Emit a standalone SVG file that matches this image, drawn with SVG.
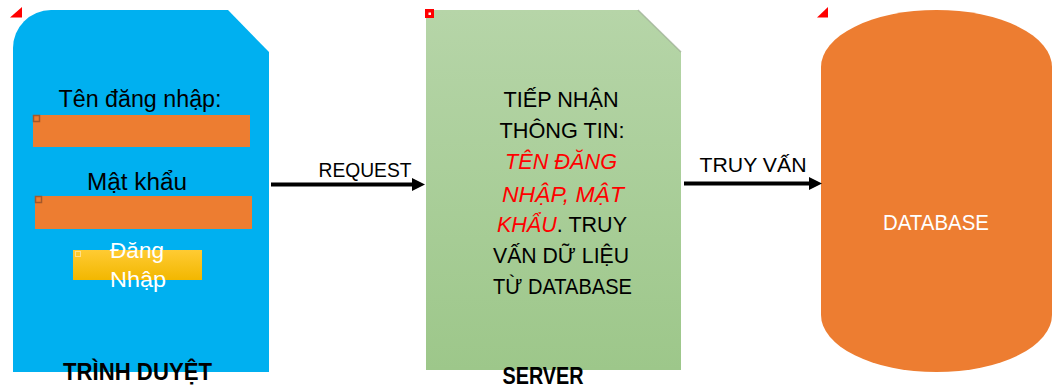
<svg xmlns="http://www.w3.org/2000/svg" width="1057" height="390" viewBox="0 0 1057 390">
  <style>
    text { font-family: "Liberation Sans", Arial, sans-serif; fill: #000; }
    .lbl { font-size: 23px; }
    .btn { font-size: 22px; fill: #fff; }
    .cap { font-size: 23px; font-weight: bold; }
    .srv { font-size: 22.5px; }
    .em { fill: #ff0000; font-style: italic; }
    .conn { font-size: 20.5px; }
    .field { fill: #ed7d31; }
    .handle { fill: none; stroke: #a4582a; stroke-width: 1.5; }
    .mark { fill: #ff0000; }
    .edge { stroke: #000; stroke-width: 4; fill: none; }
  </style>
  <defs>
    <linearGradient id="serverFill" x1="0" y1="0" x2="0" y2="1">
      <stop offset="0" stop-color="#b6d5a8"/>
      <stop offset="1" stop-color="#9dc78a"/>
    </linearGradient>
    <linearGradient id="buttonFill" x1="0" y1="0" x2="0" y2="1">
      <stop offset="0" stop-color="#ffcb33"/>
      <stop offset="1" stop-color="#f2b700"/>
    </linearGradient>
    <marker id="arrowHead" markerUnits="userSpaceOnUse" markerWidth="14" markerHeight="14" refX="5" refY="6.5" orient="auto">
      <path d="M0,0 L13,6.5 L0,13 Z" fill="#000"/>
    </marker>
  </defs>

  <!-- Browser (login form) -->
  <g id="browser">
    <path d="M13,48 A38,38 0 0 1 51,10 L228,10 L269,52 L269,372 L13,372 Z" fill="#00b0f0"/>
    <path class="mark" d="M10,17.5 L22,17.5 L22,7 Z"/>
    <text class="lbl" x="140" y="107" text-anchor="middle" textLength="163" lengthAdjust="spacingAndGlyphs">Tên đăng nhập:</text>
    <rect class="field" x="33" y="115" width="217" height="32"/>
    <rect class="handle" x="33.5" y="115.5" width="6" height="6"/>
    <text class="lbl" x="137" y="190" text-anchor="middle" textLength="100" lengthAdjust="spacingAndGlyphs">Mật khẩu</text>
    <rect class="field" x="35" y="196" width="217" height="33"/>
    <rect class="handle" x="35.5" y="196.5" width="6" height="6"/>
    <rect x="73" y="250" width="129" height="30" fill="url(#buttonFill)"/>
    <rect x="75.5" y="251.5" width="5" height="5" fill="none" stroke="#ffe08a" stroke-width="1"/>
    <text class="btn" x="137" y="258" text-anchor="middle" textLength="54" lengthAdjust="spacingAndGlyphs">Đăng</text>
    <text class="btn" x="138" y="287" text-anchor="middle" textLength="56" lengthAdjust="spacingAndGlyphs">Nhập</text>
    <text class="cap" x="137.5" y="380" text-anchor="middle" textLength="149" lengthAdjust="spacingAndGlyphs">TRÌNH DUYỆT</text>
  </g>

  <!-- Server -->
  <g id="server">
    <path d="M426,10 L638,10 L681,52 L681,370 L426,370 Z" fill="url(#serverFill)"/>
    <path d="M638,10 L681,52" stroke="#9aab92" stroke-width="1.5" fill="none" opacity="0.7"/>
    <rect class="mark" x="425" y="9" width="9" height="9"/>
    <rect x="428.5" y="12.5" width="2.5" height="2.5" fill="#fff"/>
    <text class="srv" x="561" y="107" text-anchor="middle" textLength="115" lengthAdjust="spacingAndGlyphs">TIẾP NHẬN</text>
    <text class="srv" x="562" y="138" text-anchor="middle" textLength="125" lengthAdjust="spacingAndGlyphs">THÔNG TIN:</text>
    <text class="srv em" x="561" y="169" text-anchor="middle" textLength="112" lengthAdjust="spacingAndGlyphs">TÊN ĐĂNG</text>
    <text class="srv em" x="563" y="202" text-anchor="middle" textLength="122" lengthAdjust="spacingAndGlyphs">NHẬP, MẬT</text>
    <text class="srv" x="562" y="232" text-anchor="middle" textLength="130" lengthAdjust="spacingAndGlyphs"><tspan class="em">KHẨU</tspan>. TRUY</text>
    <text class="srv" x="561" y="263" text-anchor="middle" textLength="136" lengthAdjust="spacingAndGlyphs">VẤN DỮ LIỆU</text>
    <text class="srv" x="562.5" y="294" text-anchor="middle" textLength="139" lengthAdjust="spacingAndGlyphs">TỪ DATABASE</text>
    <text class="cap" x="543" y="384" text-anchor="middle" textLength="81" lengthAdjust="spacingAndGlyphs">SERVER</text>
  </g>

  <!-- Database -->
  <g id="database">
    <path d="M821,67 A115.5,57 0 0 1 1052,67 L1052,315 A115.5,57 0 0 1 821,315 Z" fill="#ed7d31"/>
    <path class="mark" d="M817,17.5 L828,17.5 L828,7 Z"/>
    <text x="936" y="230" text-anchor="middle" font-size="22.5" style="fill:#fff" textLength="106" lengthAdjust="spacingAndGlyphs">DATABASE</text>
  </g>

  <!-- Connectors -->
  <g id="connectors">
    <line class="edge" x1="271" y1="184.5" x2="417" y2="184.5" marker-end="url(#arrowHead)"/>
    <text class="conn" x="365" y="177" text-anchor="middle" textLength="93" lengthAdjust="spacingAndGlyphs">REQUEST</text>
    <line class="edge" x1="684" y1="183.5" x2="814" y2="183.5" marker-end="url(#arrowHead)"/>
    <text class="conn" x="753" y="172" text-anchor="middle" textLength="107" lengthAdjust="spacingAndGlyphs">TRUY VẤN</text>
  </g>
</svg>
